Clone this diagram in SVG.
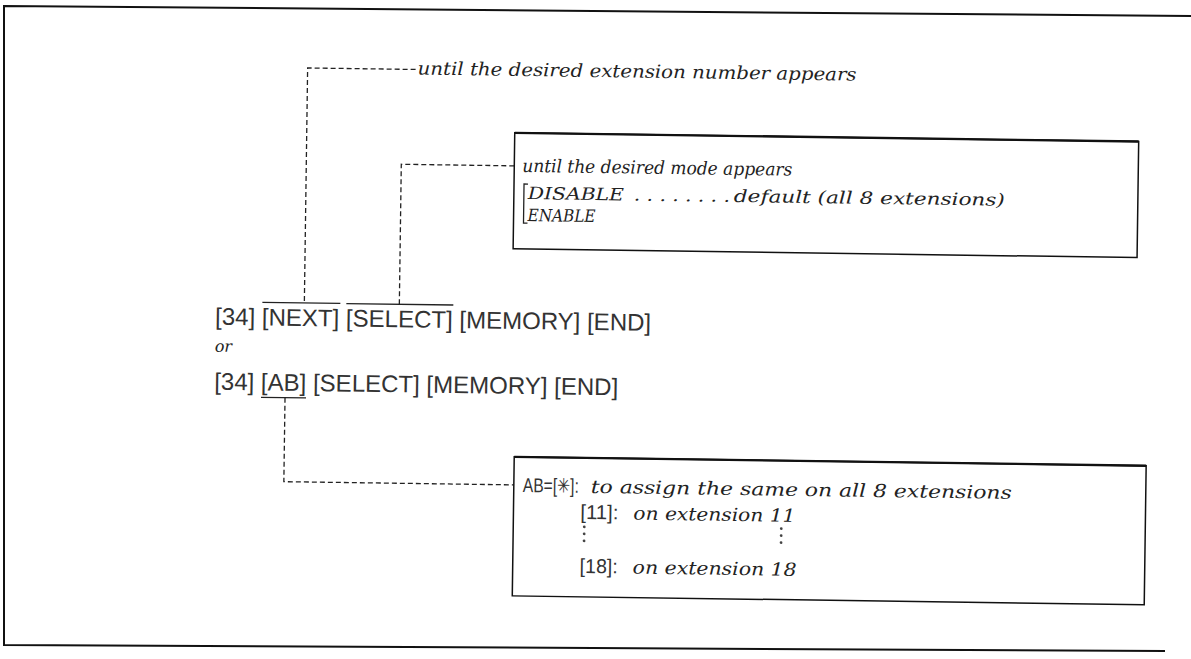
<svg xmlns="http://www.w3.org/2000/svg" width="1191" height="659" viewBox="0 0 1191 659">
<style>
.bg{fill:#fff}
.frame{fill:none;stroke:#111;stroke-width:2}
.box{fill:#fff;stroke:#111;stroke-width:1.5}
.edge{fill:none;stroke:#111;stroke-width:2.4}
.dash{fill:none;stroke:#222;stroke-width:1.3;stroke-dasharray:5 3}
.bar{fill:none;stroke:#222;stroke-width:1.3}
.sans{font-family:"Liberation Sans",Arial,sans-serif;font-size:24px;fill:#333}
.sans2{font-family:"Liberation Sans",Arial,"DejaVu Sans",sans-serif;font-size:20px;fill:#333}
.it{font-family:"DejaVu Serif","Liberation Serif",serif;font-style:italic;font-size:18px;fill:#222}
.caps{font-size:17px}
.dot{fill:#444}
</style>
<rect class="bg" width="1191" height="659"/>
<g id="frame">
<polyline class="frame" points="1191,16 4,6 4,645 1165,651"/>
</g>
<g transform="rotate(0.8 595 330)">
<g id="connectors">
<polyline class="dash" points="412,72 304,72 304,307"/>
<polyline class="dash" points="512,167 399,167 399,307"/>
<polyline class="dash" points="286,402 286,486 516,486"/>
</g>
<g id="label-extension">
<text class="it" x="414" y="77" textLength="439" lengthAdjust="spacingAndGlyphs">until the desired extension number appears</text>
</g>
<g id="box-mode">
<rect class="box" x="512" y="134" width="624" height="116"/>
<line class="edge" x1="512" y1="134" x2="1136" y2="134"/>
<text class="it" x="520" y="173" textLength="270" lengthAdjust="spacingAndGlyphs">until the desired mode appears</text>
<path class="bar" d="M526,185 h-4 v39 h4"/>
<text class="it caps" x="526" y="200" textLength="96" lengthAdjust="spacingAndGlyphs">DISABLE</text>
<text class="it caps" x="632" y="200" textLength="96" lengthAdjust="spacingAndGlyphs">. . . . . . . .</text>
<text class="it caps" x="732" y="200" textLength="271" lengthAdjust="spacingAndGlyphs">default (all 8 extensions)</text>
<text class="it caps" x="526" y="222" textLength="68" lengthAdjust="spacingAndGlyphs">ENABLE</text>
</g>
<g id="sequence">
<text class="sans" x="215" y="330" textLength="436" lengthAdjust="spacingAndGlyphs">[34] [NEXT] [SELECT] [MEMORY] [END]</text>
<line class="bar" x1="262" y1="307" x2="340" y2="307"/>
<line class="bar" x1="346" y1="307" x2="453" y2="307"/>
<text class="it" x="215" y="357" style="font-size:16px">or</text>
<text class="sans" x="215" y="395" textLength="404" lengthAdjust="spacingAndGlyphs">[34] [AB] [SELECT] [MEMORY] [END]</text>
<line class="bar" x1="262" y1="402" x2="307" y2="402"/>
</g>
<g id="box-ab">
<rect class="box" x="516" y="458" width="632" height="139"/>
<line class="edge" x1="516" y1="458" x2="1148" y2="458"/>
<text class="sans2" x="525" y="493" textLength="56" lengthAdjust="spacingAndGlyphs">AB=[✳]:</text>
<text class="it" x="593" y="493" textLength="421" lengthAdjust="spacingAndGlyphs">to assign the same on all 8 extensions</text>
<text class="sans2" x="583" y="519" textLength="38" lengthAdjust="spacingAndGlyphs">[11]:</text>
<text class="it" x="636" y="519" textLength="162" lengthAdjust="spacingAndGlyphs">on extension 11</text>
<circle class="dot" cx="587" cy="527" r="1.4"/>
<circle class="dot" cx="587" cy="534" r="1.4"/>
<circle class="dot" cx="587" cy="541" r="1.4"/>
<circle class="dot" cx="784" cy="526" r="1.4"/>
<circle class="dot" cx="784" cy="533" r="1.4"/>
<circle class="dot" cx="784" cy="540" r="1.4"/>
<text class="sans2" x="583" y="573" textLength="38" lengthAdjust="spacingAndGlyphs">[18]:</text>
<text class="it" x="636" y="573" textLength="164" lengthAdjust="spacingAndGlyphs">on extension 18</text>
</g>
</g>
</svg>
